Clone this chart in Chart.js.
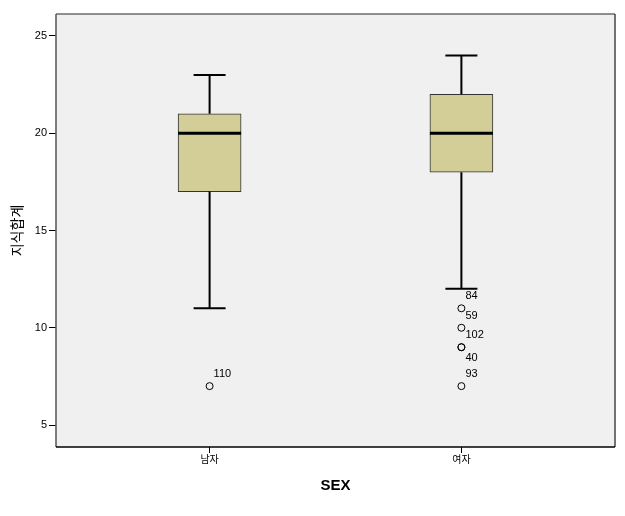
<!DOCTYPE html>
<html>
<head>
<meta charset="utf-8">
<script src="https://cdn.jsdelivr.net/npm/chart.js@4.4.0/dist/chart.umd.min.js"></script>
<style>
  html, body { margin: 0; padding: 0; background: #fff; }
  canvas { display: block; }
</style>
</head>
<body>
<canvas id="c" width="625" height="516"></canvas>
<script>
// box plot summary per group
const categories = ['남자', '여자'];
const lowWhisker = [11, 12];
const q1 = [17, 18];
const medians = [20, 20];
const q3 = [21, 22];
const highWhisker = [23, 24];

// outliers: group index, value, case label
const outlierGroup = [0, 1, 1, 1, 1, 1];
const outlierValues = [7, 11, 10, 9, 9, 7];
const outlierLabels = ['110', '84', '59', '102', '40', '93'];

const yTicks = [5, 10, 15, 20, 25];

const FONT = 'Arial, "Liberation Sans", "Noto Sans CJK KR", sans-serif';

// background + frame of the plot area
const frame = {
  id: 'frame',
  beforeDraw(chart) {
    const { ctx, chartArea: a } = chart;
    ctx.save();
    ctx.fillStyle = '#f0f0f0';
    ctx.fillRect(a.left, a.top, a.right - a.left, a.bottom - a.top);
    ctx.restore();
  },
  beforeDatasetsDraw(chart) {
    const { ctx, chartArea: a } = chart;
    const seg = (x1, y1, x2, y2, c) => {
      ctx.strokeStyle = c;
      ctx.beginPath(); ctx.moveTo(x1, y1); ctx.lineTo(x2, y2); ctx.stroke();
    };
    ctx.save();
    ctx.lineWidth = 1.5;
    seg(a.left, a.top, a.right, a.top, '#6b6b6b');
    seg(a.right, a.top, a.right, a.bottom, '#444');
    seg(a.left, a.top, a.left, a.bottom, '#555');
    seg(a.left, a.bottom, a.right, a.bottom, '#000');
    ctx.restore();
  }
};

// whiskers, caps, medians and outlier labels
const boxLines = {
  id: 'boxLines',
  afterDatasetsDraw(chart) {
    const { ctx } = chart;
    const xs = chart.scales.x, ys = chart.scales.y;
    const capHalf = 16, boxHalf = 31.5;
    ctx.save();
    ctx.strokeStyle = '#000';
    categories.forEach((c, i) => {
      const x = xs.getPixelForValue(i + 1);
      ctx.lineWidth = 2;
      ctx.beginPath();
      ctx.moveTo(x, ys.getPixelForValue(q3[i]));
      ctx.lineTo(x, ys.getPixelForValue(highWhisker[i]));
      ctx.moveTo(x, ys.getPixelForValue(q1[i]));
      ctx.lineTo(x, ys.getPixelForValue(lowWhisker[i]));
      ctx.moveTo(x - capHalf, ys.getPixelForValue(highWhisker[i]));
      ctx.lineTo(x + capHalf, ys.getPixelForValue(highWhisker[i]));
      ctx.moveTo(x - capHalf, ys.getPixelForValue(lowWhisker[i]));
      ctx.lineTo(x + capHalf, ys.getPixelForValue(lowWhisker[i]));
      ctx.stroke();
      ctx.lineWidth = 3;
      ctx.beginPath();
      ctx.moveTo(x - boxHalf, ys.getPixelForValue(medians[i]));
      ctx.lineTo(x + boxHalf, ys.getPixelForValue(medians[i]));
      ctx.stroke();
    });
    ctx.fillStyle = '#000';
    ctx.font = '11px ' + FONT;
    ctx.textAlign = 'left';
    ctx.textBaseline = 'middle';
    outlierValues.forEach((v, k) => {
      const x = xs.getPixelForValue(outlierGroup[k] + 1);
      const y = ys.getPixelForValue(v);
      const below = outlierLabels[k] === '40';
      ctx.fillText(outlierLabels[k], x + 4, below ? y + 11 : y - 12);
    });
    ctx.restore();
  }
};

new Chart(document.getElementById('c'), {
  type: 'bar',
  data: {
    datasets: [
      {
        type: 'bar',
        data: categories.map((c, i) => ({ x: i + 1, y: [q1[i], q3[i]] })),
        backgroundColor: '#d3ce98',
        borderColor: '#333',
        borderWidth: 1,
        borderSkipped: false,
        barThickness: 63
      },
      {
        type: 'scatter',
        data: outlierValues.map((v, k) => ({ x: outlierGroup[k] + 1, y: v })),
        pointStyle: 'circle',
        pointRadius: 3.5,
        pointBackgroundColor: 'rgba(0,0,0,0)',
        pointBorderColor: '#000',
        pointBorderWidth: 1,
        showLine: false
      }
    ]
  },
  options: {
    responsive: false,
    animation: false,
    devicePixelRatio: 1,
    layout: { padding: { left: 0, top: 14, right: 10, bottom: 0 } },
    plugins: { legend: { display: false }, tooltip: { enabled: false } },
    events: [],
    scales: {
      x: {
        type: 'linear',
        min: 0.39,
        max: 2.61,
        offset: false,
        afterBuildTicks: s => { s.ticks = categories.map((c, i) => ({ value: i + 1 })); },
        afterFit: s => { s.height = 69; },
        ticks: {
          callback: v => categories[v - 1],
          color: '#000',
          font: { size: 10, family: FONT },
          padding: 1,
          maxRotation: 0
        },
        grid: { offset: false, drawOnChartArea: false, drawTicks: true, tickLength: 6, tickColor: '#000', tickWidth: 1 },
        border: { display: false },
        title: {
          display: true,
          text: 'SEX',
          color: '#000',
          font: { size: 15, weight: 'bold', family: FONT },
          padding: { top: 0, bottom: 21 }
        }
      },
      y: {
        min: 3.87,
        max: 26.13,
        afterBuildTicks: s => { s.ticks = yTicks.map(v => ({ value: v })); },
        afterFit: s => { s.width = 56; },
        ticks: {
          color: '#000',
          font: { size: 11, family: FONT },
          padding: 2
        },
        grid: { drawOnChartArea: false, drawTicks: true, tickLength: 7, tickColor: '#000', tickWidth: 1 },
        border: { display: false },
        title: {
          display: true,
          text: '지식합계',
          color: '#000',
          font: { size: 14, family: FONT },
          padding: { top: 10, bottom: 0 }
        }
      }
    }
  },
  plugins: [frame, boxLines]
});
</script>
</body>
</html>
